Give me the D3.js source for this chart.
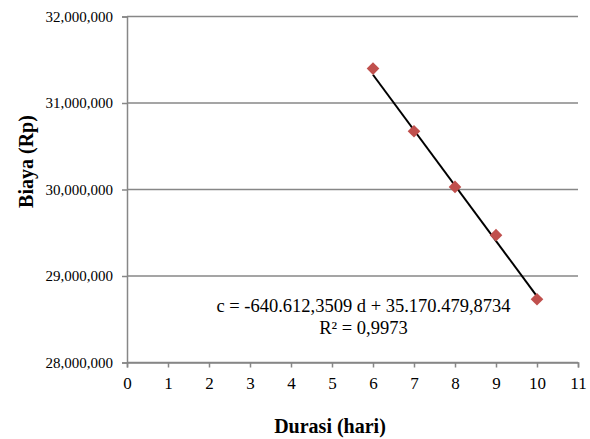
<!DOCTYPE html>
<html>
<head>
<meta charset="utf-8">
<script src="https://cdn.jsdelivr.net/npm/d3@7"></script>
<style>
  body { margin: 0; background: #fff; }
  text { font-family: "Liberation Serif", "Times New Roman", serif; fill: #000; }
</style>
</head>
<body>
<div id="chart"></div>
<script>
// durasi (hari) vs biaya (Rp)
var durasi = [6, 7, 8, 9, 10];
var biaya = [31398000, 30673000, 30030000, 29472000, 28731000];

var xTicks = [0, 1, 2, 3, 4, 5, 6, 7, 8, 9, 10, 11];
var yTicks = [28000000, 29000000, 30000000, 31000000, 32000000];

// trendline from the label
var slope = -640612.3509;
var intercept = 35170479.8734;
var eqLabel = "c = -640.612,3509 d + 35.170.479,8734";
var r2Label = "R\u00b2 = 0,9973";

var width = 590, height = 439;
var plotLeft = 127, plotRight = 578, plotTop = 16.5, plotBottom = 362.5;

var svg = d3.select("#chart").append("svg")
    .attr("width", width)
    .attr("height", height);

var x = d3.scaleLinear().domain([0, 11]).range([plotLeft, plotRight]);
var y = d3.scaleLinear().domain([28000000, 32000000]).range([plotBottom, plotTop]);

var fmt = d3.format(",");

// gridlines
svg.append("g").selectAll("line")
  .data(yTicks)
  .enter().append("line")
    .attr("x1", plotLeft)
    .attr("x2", plotRight)
    .attr("y1", function(d) { return y(d); })
    .attr("y2", function(d) { return y(d); })
    .attr("stroke", "#878787")
    .attr("stroke-width", 1.5);

// y axis
var yAxis = svg.append("g")
    .attr("transform", "translate(" + plotLeft + ",0)")
    .call(d3.axisLeft(y).tickValues(yTicks).tickFormat(fmt).tickSize(5).tickPadding(9));
yAxis.select(".domain").attr("stroke", "#878787").attr("stroke-width", 1.5);
yAxis.selectAll(".tick line").attr("stroke", "#878787").attr("stroke-width", 1.5);
yAxis.selectAll("text")
    .style("font-family", "Liberation Serif")
    .style("font-size", "15px")
    .attr("fill", "#000");

// x axis
var xAxis = svg.append("g")
    .attr("transform", "translate(0," + plotBottom + ")")
    .call(d3.axisBottom(x).tickValues(xTicks).tickSize(5).tickPadding(9));
xAxis.select(".domain").attr("stroke", "#878787").attr("stroke-width", 1.5);
xAxis.selectAll(".tick line").attr("stroke", "#878787").attr("stroke-width", 1.5);
xAxis.selectAll("text")
    .style("font-family", "Liberation Serif")
    .style("font-size", "17px")
    .attr("fill", "#000");

// trendline
svg.append("line")
    .attr("x1", x(durasi[0]))
    .attr("y1", y(intercept + slope * durasi[0]))
    .attr("x2", x(durasi[durasi.length - 1]))
    .attr("y2", y(intercept + slope * durasi[durasi.length - 1]))
    .attr("stroke", "#000")
    .attr("stroke-width", 2);

// markers
var diamond = d3.symbol().type(d3.symbolSquare).size(80);
svg.append("g").selectAll("path")
  .data(durasi)
  .enter().append("path")
    .attr("d", diamond)
    .attr("transform", function(d, i) {
      return "translate(" + x(d) + "," + y(biaya[i]) + ") rotate(45)";
    })
    .attr("fill", "#C0504D");

// equation label
svg.append("text")
    .attr("x", 363.5)
    .attr("y", 312)
    .attr("text-anchor", "middle")
    .style("font-size", "18.5px")
    .text(eqLabel);

svg.append("text")
    .attr("x", 363.5)
    .attr("y", 333.5)
    .attr("text-anchor", "middle")
    .style("font-size", "18.5px")
    .text(r2Label);

// axis titles
svg.append("text")
    .attr("x", 330)
    .attr("y", 433)
    .attr("text-anchor", "middle")
    .style("font-size", "20px")
    .style("font-weight", "bold")
    .text("Durasi (hari)");

svg.append("text")
    .attr("transform", "translate(33,161.5) rotate(-90)")
    .attr("text-anchor", "middle")
    .style("font-size", "20px")
    .style("font-weight", "bold")
    .text("Biaya (Rp)");
</script>
</body>
</html>
